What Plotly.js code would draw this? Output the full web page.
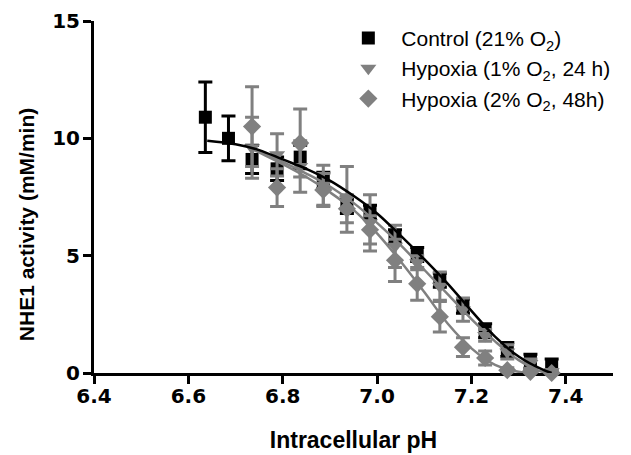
<!DOCTYPE html>
<html>
<head>
<meta charset="utf-8">
<script src="https://cdn.plot.ly/plotly-3.0.1.min.js"></script>
<style>html,body{margin:0;padding:0;background:#fff;}#chart{width:631px;height:455px;}</style>
</head>
<body>
<div id="chart"></div>
<script>
// ---- data ----
const controlPH   = [6.636, 6.685, 6.735, 6.788, 6.837, 6.886, 6.936, 6.985, 7.038, 7.085, 7.133, 7.182, 7.229, 7.276, 7.325, 7.370];
const controlMean = [10.9, 10.0, 9.1, 8.7, 9.2, 8.2, 7.1, 6.85, 5.8, 5.05, 3.95, 2.85, 1.8, 1.0, 0.5, 0.3];
const controlErr  = [1.5, 0.95, 0.6, 0.5, 0.5, 0.35, 0.3, 0.3, 0.3, 0.3, 0.3, 0.3, 0.3, 0.3, 0.3, 0.3];

const hypoxiaPH   = [6.735, 6.788, 6.837, 6.886, 6.936, 6.985, 7.038, 7.085, 7.133, 7.182, 7.229, 7.276, 7.325, 7.370];
const hyp1Mean    = [9.6, 9.3, 8.8, 8.0, 7.4, 6.4, 5.4, 4.7, 3.7, 2.7, 1.6, 0.9, 0.4, 0.05];
const hyp1Err     = [1.3, 0.9, 1.1, 0.85, 1.4, 1.2, 0.9, 0.3, 0.6, 0.5, 0.25, 0.3, 0.2, 0.1];
const hyp2Mean    = [10.5, 7.9, 9.8, 7.8, 7.0, 6.1, 4.8, 3.8, 2.4, 1.1, 0.64, 0.12, 0.05, 0.0];
const hyp2Err     = [1.7, 0.8, 1.45, 0.7, 0.6, 0.6, 0.9, 0.7, 0.65, 0.4, 0.3, 0.1, 0.1, 0.05];

// fitted curves
const controlFitPH = [6.64, 6.70, 6.75, 6.80, 6.85, 6.90, 6.95, 7.00, 7.05, 7.10, 7.15, 7.20, 7.25, 7.30, 7.35, 7.37];
const controlFit   = [9.9, 9.75, 9.5, 9.1, 8.7, 8.2, 7.55, 6.8, 5.85, 4.85, 3.8, 2.65, 1.55, 0.7, 0.15, 0.0];
const hyp1FitPH    = [6.73, 6.75, 6.80, 6.85, 6.90, 6.95, 7.00, 7.05, 7.10, 7.15, 7.20, 7.25, 7.30, 7.35, 7.37];
const hyp1Fit      = [9.6, 9.45, 9.0, 8.5, 7.95, 7.25, 6.4, 5.45, 4.4, 3.35, 2.3, 1.35, 0.55, 0.05, 0.0];
const hyp2FitPH    = [6.73, 6.75, 6.80, 6.85, 6.90, 6.95, 7.00, 7.05, 7.10, 7.15, 7.20, 7.25, 7.30, 7.33];
const hyp2Fit      = [9.6, 9.4, 8.9, 8.35, 7.7, 6.95, 5.95, 4.75, 3.45, 2.1, 1.05, 0.35, 0.05, 0.0];

const xTicks = [6.4, 6.6, 6.8, 7.0, 7.2, 7.4];
const yTicks = [0, 5, 10, 15];

const seriesNames = ['Control (21% O<sub>2</sub>)', 'Hypoxia (1% O<sub>2</sub>, 24 h)', 'Hypoxia (2% O<sub>2</sub>, 48h)'];
const yTitle = 'NHE1 activity (mM/min)';
const xTitle = 'Intracellular pH';

// ---- styling ----
const BLACK = '#000000';
const GREY = '#808080';
const FONT = 'Liberation Sans, Arial, Helvetica, sans-serif';
const TICKFONT = 'DejaVu Sans, Liberation Sans, Arial, sans-serif';

function errBar(arr, color) {
  return {type: 'data', array: arr, visible: true, color: color, thickness: 3, width: 7};
}

const traces = [
  {x: controlPH, y: controlMean, name: seriesNames[0], type: 'scatter', mode: 'markers', legendgroup: 'a',
   marker: {symbol: 'square', size: 13, color: BLACK, line: {width: 0}}, error_y: errBar(controlErr, BLACK), cliponaxis: false},
  {x: hypoxiaPH, y: hyp1Mean, name: seriesNames[1], type: 'scatter', mode: 'markers', legendgroup: 'b',
   marker: {symbol: 'triangle-down', size: 14, color: GREY, line: {width: 0}}, error_y: errBar(hyp1Err, GREY), cliponaxis: false},
  {x: hypoxiaPH, y: hyp2Mean, name: seriesNames[2], type: 'scatter', mode: 'markers', legendgroup: 'c',
   marker: {symbol: 'diamond', size: 14, color: GREY, line: {width: 0}}, error_y: errBar(hyp2Err, GREY), cliponaxis: false},
  {x: hyp2FitPH, y: hyp2Fit, type: 'scatter', mode: 'lines', showlegend: false, line: {color: GREY, width: 2.5, shape: 'spline'}, hoverinfo: 'skip'},
  {x: hyp1FitPH, y: hyp1Fit, type: 'scatter', mode: 'lines', showlegend: false, line: {color: GREY, width: 2.5, shape: 'spline'}, hoverinfo: 'skip'},
  {x: controlFitPH, y: controlFit, type: 'scatter', mode: 'lines', showlegend: false, line: {color: BLACK, width: 2.5, shape: 'spline'}, hoverinfo: 'skip'}
];

const layout = {
  width: 631, height: 455,
  margin: {l: 94, r: 18, t: 21, b: 82},
  paper_bgcolor: '#ffffff', plot_bgcolor: '#ffffff',
  font: {family: FONT, color: BLACK},
  showlegend: true,
  legend: {x: 0.465, xanchor: 'left', y: 1.009, yanchor: 'top', bgcolor: 'rgba(0,0,0,0)',
           font: {family: FONT, size: 21, color: BLACK}, itemwidth: 56, tracegroupgap: 8, traceorder: 'normal'},
  xaxis: {
    range: [6.4, 7.5], tickvals: xTicks, tickformat: '.1f',
    showline: true, linecolor: BLACK, linewidth: 3, mirror: false,
    ticks: 'outside', ticklen: 8, tickwidth: 3, tickcolor: BLACK,
    showgrid: false, zeroline: false, layer: 'below traces', ticklabelstandoff: -5,
    tickfont: {family: TICKFONT, size: 20, weight: 'bold', color: BLACK},
    title: {text: xTitle, font: {family: FONT, size: 23, weight: 'bold', color: BLACK}, standoff: 25}
  },
  yaxis: {
    range: [0, 15], tickvals: yTicks,
    showline: true, linecolor: BLACK, linewidth: 3, mirror: false,
    ticks: 'outside', ticklen: 8, tickwidth: 3, tickcolor: BLACK,
    showgrid: false, zeroline: false, layer: 'below traces', ticklabelstandoff: -1,
    tickfont: {family: TICKFONT, size: 20, weight: 'bold', color: BLACK}
  },
  annotations: [
    {text: yTitle, xref: 'paper', yref: 'paper', x: -0.131, y: 0.42, xanchor: 'center', yanchor: 'middle',
     textangle: -90, showarrow: false, font: {family: FONT, size: 21, weight: 'bold', color: BLACK}}
  ]
};

Plotly.newPlot('chart', traces, layout, {displayModeBar: false, staticPlot: true});
</script>
</body>
</html>
